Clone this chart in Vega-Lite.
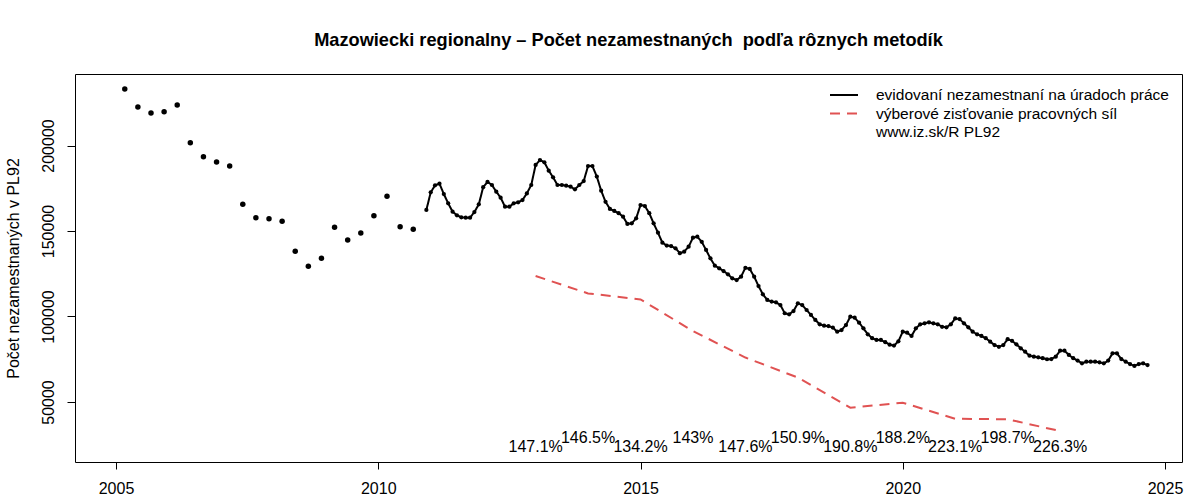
{
  "$schema": "https://vega.github.io/schema/vega-lite/v6.json",
  "width": 1107,
  "height": 388,
  "autosize": {"type": "none"},
  "padding": {"left": 75, "top": 74, "right": 18, "bottom": 38},
  "background": "white",
  "config": {
    "font": "Liberation Sans",
    "view": {"stroke": "#000000", "strokeWidth": 1},
    "axis": {"grid": false, "domain": false, "tickColor": "#000000", "labelColor": "#000000", "labelFontSize": 16, "titleFontSize": 16, "titleFontWeight": "normal", "titleColor": "#000000"}
  },
  "title": {"text": "Mazowiecki regionalny – Počet nezamestnaných \u00a0podľa rôznych metodík", "fontSize": 18.2, "fontWeight": "bold", "color": "#000000", "frame": "group", "anchor": "middle", "offset": 24},
  "datasets": {
    "quarterly": [
      {"t": 2005.167, "v": 233000}, {"t": 2005.417, "v": 222500}, {"t": 2005.667, "v": 219000}, {"t": 2005.917, "v": 219800},
      {"t": 2006.167, "v": 223700}, {"t": 2006.417, "v": 201600}, {"t": 2006.667, "v": 193400}, {"t": 2006.917, "v": 190300},
      {"t": 2007.167, "v": 188000}, {"t": 2007.417, "v": 165600}, {"t": 2007.667, "v": 157800}, {"t": 2007.917, "v": 157200},
      {"t": 2008.167, "v": 155700}, {"t": 2008.417, "v": 138100}, {"t": 2008.667, "v": 129400}, {"t": 2008.917, "v": 134000},
      {"t": 2009.167, "v": 152200}, {"t": 2009.417, "v": 144700}, {"t": 2009.667, "v": 148800}, {"t": 2009.917, "v": 158900},
      {"t": 2010.167, "v": 170300}, {"t": 2010.417, "v": 152500}, {"t": 2010.667, "v": 151000}
    ],
    "lines": [
      {"s": "a", "t": 2010.917, "v": 162300},
      {"s": "a", "t": 2011.0, "v": 172600}, {"s": "a", "t": 2011.083, "v": 176700}, {"s": "a", "t": 2011.167, "v": 177700}, {"s": "a", "t": 2011.25, "v": 171600},
      {"s": "a", "t": 2011.333, "v": 166200}, {"s": "a", "t": 2011.417, "v": 161300}, {"s": "a", "t": 2011.5, "v": 159200}, {"s": "a", "t": 2011.583, "v": 158000},
      {"s": "a", "t": 2011.667, "v": 157800}, {"s": "a", "t": 2011.75, "v": 157800}, {"s": "a", "t": 2011.833, "v": 161100}, {"s": "a", "t": 2011.917, "v": 165600},
      {"s": "a", "t": 2012.0, "v": 175600}, {"s": "a", "t": 2012.083, "v": 178700}, {"s": "a", "t": 2012.167, "v": 176900}, {"s": "a", "t": 2012.25, "v": 173000},
      {"s": "a", "t": 2012.333, "v": 169500}, {"s": "a", "t": 2012.417, "v": 164200}, {"s": "a", "t": 2012.5, "v": 164200}, {"s": "a", "t": 2012.583, "v": 166200},
      {"s": "a", "t": 2012.667, "v": 166800}, {"s": "a", "t": 2012.75, "v": 168100}, {"s": "a", "t": 2012.833, "v": 172000}, {"s": "a", "t": 2012.917, "v": 176900},
      {"s": "a", "t": 2013.0, "v": 188600}, {"s": "a", "t": 2013.083, "v": 191500}, {"s": "a", "t": 2013.167, "v": 190200}, {"s": "a", "t": 2013.25, "v": 185300},
      {"s": "a", "t": 2013.333, "v": 181400}, {"s": "a", "t": 2013.417, "v": 176900}, {"s": "a", "t": 2013.5, "v": 176900}, {"s": "a", "t": 2013.583, "v": 176500},
      {"s": "a", "t": 2013.667, "v": 175900}, {"s": "a", "t": 2013.75, "v": 174400}, {"s": "a", "t": 2013.833, "v": 176900}, {"s": "a", "t": 2013.917, "v": 179200},
      {"s": "a", "t": 2014.0, "v": 188000}, {"s": "a", "t": 2014.083, "v": 188000}, {"s": "a", "t": 2014.167, "v": 181800}, {"s": "a", "t": 2014.25, "v": 173600},
      {"s": "a", "t": 2014.333, "v": 167100}, {"s": "a", "t": 2014.417, "v": 162900}, {"s": "a", "t": 2014.5, "v": 161700}, {"s": "a", "t": 2014.583, "v": 160400},
      {"s": "a", "t": 2014.667, "v": 158400}, {"s": "a", "t": 2014.75, "v": 154100}, {"s": "a", "t": 2014.833, "v": 154500}, {"s": "a", "t": 2014.917, "v": 157400},
      {"s": "a", "t": 2015.0, "v": 165200}, {"s": "a", "t": 2015.083, "v": 164600}, {"s": "a", "t": 2015.167, "v": 160400}, {"s": "a", "t": 2015.25, "v": 154500},
      {"s": "a", "t": 2015.333, "v": 149000}, {"s": "a", "t": 2015.417, "v": 143200}, {"s": "a", "t": 2015.5, "v": 141500}, {"s": "a", "t": 2015.583, "v": 141200},
      {"s": "a", "t": 2015.667, "v": 139900}, {"s": "a", "t": 2015.75, "v": 137000}, {"s": "a", "t": 2015.833, "v": 137900}, {"s": "a", "t": 2015.917, "v": 140800},
      {"s": "a", "t": 2016.0, "v": 146100}, {"s": "a", "t": 2016.083, "v": 146700}, {"s": "a", "t": 2016.167, "v": 143700}, {"s": "a", "t": 2016.25, "v": 138900},
      {"s": "a", "t": 2016.333, "v": 134000}, {"s": "a", "t": 2016.417, "v": 129700}, {"s": "a", "t": 2016.5, "v": 128200}, {"s": "a", "t": 2016.583, "v": 126600},
      {"s": "a", "t": 2016.667, "v": 124700}, {"s": "a", "t": 2016.75, "v": 122300}, {"s": "a", "t": 2016.833, "v": 121300}, {"s": "a", "t": 2016.917, "v": 123300},
      {"s": "a", "t": 2017.0, "v": 128500}, {"s": "a", "t": 2017.083, "v": 127800}, {"s": "a", "t": 2017.167, "v": 123300}, {"s": "a", "t": 2017.25, "v": 117800},
      {"s": "a", "t": 2017.333, "v": 113000}, {"s": "a", "t": 2017.417, "v": 109700}, {"s": "a", "t": 2017.5, "v": 108700}, {"s": "a", "t": 2017.583, "v": 108300},
      {"s": "a", "t": 2017.667, "v": 106700}, {"s": "a", "t": 2017.75, "v": 101900}, {"s": "a", "t": 2017.833, "v": 101300}, {"s": "a", "t": 2017.917, "v": 103200},
      {"s": "a", "t": 2018.0, "v": 107700}, {"s": "a", "t": 2018.083, "v": 106700}, {"s": "a", "t": 2018.167, "v": 103800}, {"s": "a", "t": 2018.25, "v": 100900},
      {"s": "a", "t": 2018.333, "v": 98000}, {"s": "a", "t": 2018.417, "v": 95400}, {"s": "a", "t": 2018.5, "v": 94600}, {"s": "a", "t": 2018.583, "v": 94400},
      {"s": "a", "t": 2018.667, "v": 93500}, {"s": "a", "t": 2018.75, "v": 91100}, {"s": "a", "t": 2018.833, "v": 92100}, {"s": "a", "t": 2018.917, "v": 95000},
      {"s": "a", "t": 2019.0, "v": 99900}, {"s": "a", "t": 2019.083, "v": 99300}, {"s": "a", "t": 2019.167, "v": 96400}, {"s": "a", "t": 2019.25, "v": 93100},
      {"s": "a", "t": 2019.333, "v": 89600}, {"s": "a", "t": 2019.417, "v": 87300}, {"s": "a", "t": 2019.5, "v": 86300}, {"s": "a", "t": 2019.583, "v": 86300},
      {"s": "a", "t": 2019.667, "v": 85000}, {"s": "a", "t": 2019.75, "v": 83500}, {"s": "a", "t": 2019.833, "v": 83000}, {"s": "a", "t": 2019.917, "v": 85500},
      {"s": "a", "t": 2020.0, "v": 91100}, {"s": "a", "t": 2020.083, "v": 90500}, {"s": "a", "t": 2020.167, "v": 88600}, {"s": "a", "t": 2020.25, "v": 93100},
      {"s": "a", "t": 2020.333, "v": 95400}, {"s": "a", "t": 2020.417, "v": 96000}, {"s": "a", "t": 2020.5, "v": 96600}, {"s": "a", "t": 2020.583, "v": 96000},
      {"s": "a", "t": 2020.667, "v": 95400}, {"s": "a", "t": 2020.75, "v": 94000}, {"s": "a", "t": 2020.833, "v": 93700}, {"s": "a", "t": 2020.917, "v": 95400},
      {"s": "a", "t": 2021.0, "v": 98900}, {"s": "a", "t": 2021.083, "v": 98500}, {"s": "a", "t": 2021.167, "v": 96000}, {"s": "a", "t": 2021.25, "v": 93700},
      {"s": "a", "t": 2021.333, "v": 91100}, {"s": "a", "t": 2021.417, "v": 89600}, {"s": "a", "t": 2021.5, "v": 88600}, {"s": "a", "t": 2021.583, "v": 87300},
      {"s": "a", "t": 2021.667, "v": 85300}, {"s": "a", "t": 2021.75, "v": 83300}, {"s": "a", "t": 2021.833, "v": 82300}, {"s": "a", "t": 2021.917, "v": 83300},
      {"s": "a", "t": 2022.0, "v": 86700}, {"s": "a", "t": 2022.083, "v": 85800}, {"s": "a", "t": 2022.167, "v": 83700}, {"s": "a", "t": 2022.25, "v": 81400},
      {"s": "a", "t": 2022.333, "v": 79400}, {"s": "a", "t": 2022.417, "v": 77100}, {"s": "a", "t": 2022.5, "v": 76500}, {"s": "a", "t": 2022.583, "v": 76100},
      {"s": "a", "t": 2022.667, "v": 75600}, {"s": "a", "t": 2022.75, "v": 75000}, {"s": "a", "t": 2022.833, "v": 75100}, {"s": "a", "t": 2022.917, "v": 76500},
      {"s": "a", "t": 2023.0, "v": 80000}, {"s": "a", "t": 2023.083, "v": 80000}, {"s": "a", "t": 2023.167, "v": 77500}, {"s": "a", "t": 2023.25, "v": 75600},
      {"s": "a", "t": 2023.333, "v": 74200}, {"s": "a", "t": 2023.417, "v": 72600}, {"s": "a", "t": 2023.5, "v": 73600}, {"s": "a", "t": 2023.583, "v": 73600},
      {"s": "a", "t": 2023.667, "v": 73600}, {"s": "a", "t": 2023.75, "v": 73200}, {"s": "a", "t": 2023.833, "v": 72600}, {"s": "a", "t": 2023.917, "v": 74200},
      {"s": "a", "t": 2024.0, "v": 78500}, {"s": "a", "t": 2024.083, "v": 78500}, {"s": "a", "t": 2024.167, "v": 75100}, {"s": "a", "t": 2024.25, "v": 73600},
      {"s": "a", "t": 2024.333, "v": 72200}, {"s": "a", "t": 2024.417, "v": 71100}, {"s": "a", "t": 2024.5, "v": 72200}, {"s": "a", "t": 2024.583, "v": 72600},
      {"s": "a", "t": 2024.667, "v": 71600},
      {"s": "b", "t": 2013, "v": 123700}, {"s": "b", "t": 2014, "v": 113500}, {"s": "b", "t": 2015, "v": 110000},
      {"s": "b", "t": 2016, "v": 91500}, {"s": "b", "t": 2017, "v": 76000}, {"s": "b", "t": 2018, "v": 64300},
      {"s": "b", "t": 2019, "v": 46700}, {"s": "b", "t": 2020, "v": 49600}, {"s": "b", "t": 2021, "v": 40200},
      {"s": "b", "t": 2022, "v": 39900}, {"s": "b", "t": 2023, "v": 33000}
    ],
    "pct": [
      {"t": 2013, "v": 23500, "lab": "147.1%"}, {"t": 2014, "v": 28800, "lab": "146.5%"},
      {"t": 2015, "v": 23500, "lab": "134.2%"}, {"t": 2016, "v": 28800, "lab": "143%"},
      {"t": 2017, "v": 23500, "lab": "147.6%"}, {"t": 2018, "v": 28800, "lab": "150.9%"},
      {"t": 2019, "v": 23500, "lab": "190.8%"}, {"t": 2020, "v": 28800, "lab": "188.2%"},
      {"t": 2021, "v": 23500, "lab": "223.1%"}, {"t": 2022, "v": 28800, "lab": "198.7%"},
      {"t": 2023, "v": 23500, "lab": "226.3%"}
    ]
  },
  "encoding": {
    "x": {"field": "t", "type": "quantitative",
      "scale": {"domain": [2004.218, 2025.324], "nice": false, "zero": false},
      "axis": {"values": [2005, 2010, 2015, 2020, 2025], "format": "d", "title": null, "tickSize": 7, "labelPadding": 11}},
    "y": {"field": "v", "type": "quantitative",
      "scale": {"domain": [14912, 241813], "nice": false, "zero": false},
      "axis": {"values": [50000, 100000, 150000, 200000], "format": "d", "title": "Počet nezamestnaných v PL92",
        "tickSize": 8, "labelAngle": 270, "labelAlign": "center", "labelBaseline": "bottom", "labelPadding": 11,
        "titleX": -62, "titleY": 194, "titleAngle": 270, "titleAlign": "center", "titleBaseline": "middle"}}
  },
  "layer": [
    {
      "data": {"name": "lines"},
      "mark": {"type": "line", "strokeWidth": 2},
      "encoding": {
        "color": {"field": "s", "type": "nominal",
          "scale": {"domain": ["a", "b", "c"], "range": ["#000000", "#E05252", "rgba(0,0,0,0)"]},
          "legend": {"title": null, "orient": "top-right", "offset": 13, "labelFontSize": 15.5, "labelColor": "#000000",
            "symbolType": "M-2,0H2", "symbolSize": 196, "symbolStrokeWidth": 2, "labelOffset": 24, "padding": 0, "labelLimit": 0, "rowPadding": 1.5,
            "labelExpr": "datum.label == 'a' ? 'evidovaní nezamestnaní na úradoch práce' : datum.label == 'b' ? 'výberové zisťovanie pracovných síl' : 'www.iz.sk/R PL92'"}},
        "strokeDash": {"field": "s", "type": "nominal",
          "scale": {"domain": ["a", "b", "c"], "range": [[1, 0], [10, 7], [1, 0]]},
          "legend": {"title": null, "orient": "top-right", "offset": 13, "labelFontSize": 15.5, "labelColor": "#000000",
            "symbolType": "M-2,0H2", "symbolSize": 196, "symbolStrokeWidth": 2, "labelOffset": 24, "padding": 0, "labelLimit": 0, "rowPadding": 1.5,
            "labelExpr": "datum.label == 'a' ? 'evidovaní nezamestnaní na úradoch práce' : datum.label == 'b' ? 'výberové zisťovanie pracovných síl' : 'www.iz.sk/R PL92'"}}
      }
    },
    {
      "data": {"name": "lines"},
      "transform": [{"filter": "datum.s == 'a'"}],
      "mark": {"type": "point", "filled": true, "color": "#000000", "opacity": 1, "size": 18}
    },
    {
      "data": {"name": "quarterly"},
      "mark": {"type": "point", "filled": true, "color": "#000000", "opacity": 1, "size": 30}
    },
    {
      "data": {"name": "pct"},
      "mark": {"type": "text", "fontSize": 16, "color": "#000000", "align": "center", "baseline": "middle"},
      "encoding": {"text": {"field": "lab"}}
    }
  ]
}
